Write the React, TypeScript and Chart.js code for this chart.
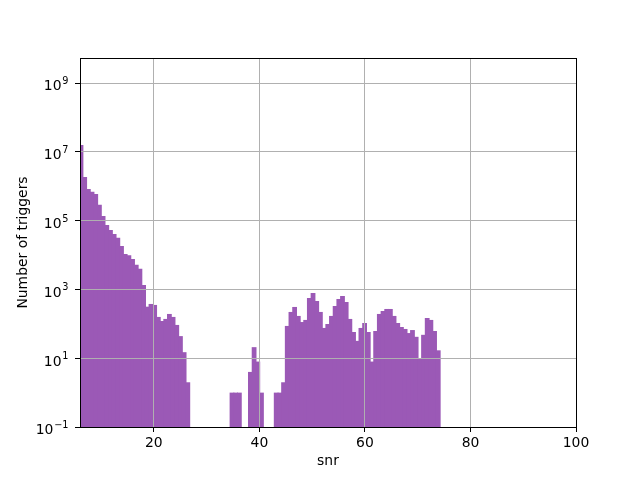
import { useEffect, useRef } from 'react';
import { Chart, registerables } from 'chart.js';

Chart.register(...registerables);

// Histogram bins (uniform width)
const binStart = 5.84;
const binWidth = 0.698;
const counts = [
  16000000, 1880000, 840000, 690000, 600000, 290000, 138000, 75000, 54000, 41000,
  32000, 18500, 10800, 9900, 7700, 5200, 4000, 1350, 316, 379,
  355, 159, 121, 139, 194, 159, 93, 44, 15, 2,
  0, 0, 0, 0, 0, 0, 0, 0, 0, 0,
  0, 1, 1, 1, 0, 0, 4, 21, 8, 1,
  0, 0, 0, 1, 1, 2, 87, 222, 310, 170,
  113, 130, 566, 792, 463, 222, 76, 99, 170, 331,
  530, 648, 433, 139, 58, 32, 76, 106, 58, 8,
  62, 194, 237, 271, 271, 170, 106, 81, 71, 54,
  66, 42, 10, 48, 148, 130, 62, 17,
];
const xTicks = [20, 40, 60, 80, 100];
const yTicks = [1e-1, 1e1, 1e3, 1e5, 1e7, 1e9];
const yTickBases = ['10', '10', '10', '10', '10', '10'];
const yTickExponents = ['−1', '1', '3', '5', '7', '9'];
const xLabel = 'snr';
const yLabel = 'Number of triggers';
const xMin = 6;
const xMax = 100;
const yMin = 0.1;
const yMax = 5.4e9;
const barColor = '#9b59b6';

const FONT_FAMILY = 'DejaVu Sans';
const FONT_SIZE = 13.9;

const framePlugin = {
  id: 'frame',
  afterDraw(chart: any) {
    const { ctx, chartArea: a } = chart;
    ctx.save();
    ctx.strokeStyle = '#000';
    ctx.lineWidth = 1;
    const l = Math.round(a.left) + 0.5;
    const t = Math.round(a.top) + 0.5;
    const r = Math.round(a.right) + 0.5;
    const b = Math.round(a.bottom) + 0.5;
    ctx.strokeRect(l, t, r - l, b - t);

    // y tick labels with real superscript exponents
    const ys = chart.scales.y;
    const rightX = a.left - 11.5;
    yTicks.forEach((v, i) => {
      const py = ys.getPixelForValue(v);
      ctx.fillStyle = '#000';
      ctx.textAlign = 'right';
      ctx.textBaseline = 'alphabetic';
      ctx.font = `${FONT_SIZE * 0.7}px "${FONT_FAMILY}"`;
      const exp = yTickExponents[i];
      const ew = ctx.measureText(exp).width;
      ctx.fillText(exp, rightX, py + 1);
      ctx.font = `${FONT_SIZE}px "${FONT_FAMILY}"`;
      ctx.fillText(yTickBases[i], rightX - ew - 0.8, py + 7.3);
    });
    ctx.restore();
  },
};

export default function App() {
  const ref = useRef<HTMLCanvasElement | null>(null);

  useEffect(() => {
    if (!ref.current) return;
    const data = counts.map((c, i) => ({
      x: binStart + binWidth * (i + 0.5),
      y: c > 0 ? c : null,
    }));
    const font = { family: FONT_FAMILY, size: FONT_SIZE };
    const chart = new Chart(ref.current, {
      type: 'bar',
      data: {
        datasets: [
          {
            data: data as any,
            backgroundColor: barColor,
            borderWidth: 0,
            inflateAmount: 0,
            barPercentage: 1.3,
            categoryPercentage: 1,
            clip: 0 as any,
          } as any,
        ],
      },
      options: {
        animation: false,
        responsive: false,
        devicePixelRatio: 1,
        layout: { padding: { left: 0, top: 58, right: 64, bottom: 0 } },
        plugins: { legend: { display: false }, tooltip: { enabled: false } },
        scales: {
          x: {
            type: 'linear',
            min: xMin,
            max: xMax,
            offset: false,
            afterFit: (s: any) => {
              s.height = 53;
            },
            afterBuildTicks: (s: any) => {
              s.ticks = xTicks.map((v) => ({ value: v }));
            },
            grid: {
              offset: false,
              color: '#b0b0b0',
              lineWidth: 1,
              tickColor: '#000',
              tickLength: 5,
              z: 1,
            },
            border: { color: '#000', width: 1, z: 2 },
            ticks: {
              autoSkip: false,
              maxRotation: 0,
              padding: 3,
              color: '#000',
              font,
              callback: (v: any) => String(v),
            },
            title: {
              display: true,
              text: xLabel,
              color: '#000',
              font,
              padding: { top: 0, bottom: 10 },
            },
          },
          y: {
            type: 'logarithmic',
            min: yMin,
            max: yMax,
            afterFit: (s: any) => {
              s.width = 80;
            },
            afterBuildTicks: (s: any) => {
              s.ticks = yTicks.map((v) => ({ value: v }));
            },
            grid: {
              color: '#b0b0b0',
              lineWidth: 1,
              tickColor: '#000',
              tickLength: 5,
              z: 1,
            },
            border: { color: '#000', width: 1, z: 2 },
            ticks: {
              autoSkip: false,
              padding: 4,
              color: 'rgba(0,0,0,0)',
              font,
              callback: () => '',
            },
            title: {
              display: true,
              text: yLabel,
              color: '#000',
              font,
              padding: { top: 15, bottom: 0 },
            },
          },
        },
      },
      plugins: [framePlugin],
    });
    return () => chart.destroy();
  }, []);

  return (
    <div style={{ position: 'absolute', left: 0, top: 0, width: 640, height: 480, background: '#fff' }}>
      <canvas ref={ref} width={640} height={480} />
    </div>
  );
}
